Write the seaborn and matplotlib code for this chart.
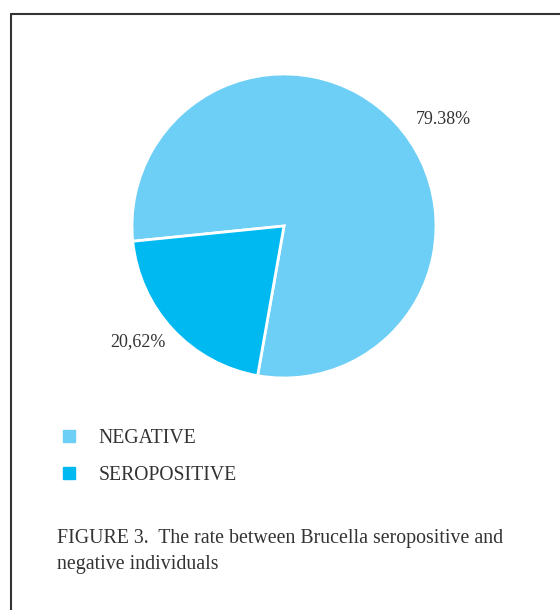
import matplotlib
matplotlib.use("Agg")
import matplotlib.pyplot as plt
import seaborn as sns
from matplotlib.lines import Line2D

categories = ["NEGATIVE", "SEROPOSITIVE"]
values = [79.38, 20.62]
value_labels = ["79.38%", "20,62%"]
colors = ["#6dcff6", "#00b9f1"]
caption = "FIGURE 3.  The rate between Brucella seropositive and\nnegative individuals"

sns.set_theme(style="white")
plt.rcParams["font.family"] = ["Liberation Serif", "DejaVu Serif"]

W, H = 560, 610
fig = plt.figure(figsize=(W / 100, H / 100), dpi=100)

# frame lines (top and left)
fig.add_artist(Line2D([11 / W, 1.0], [1 - 14 / H, 1 - 14 / H], color="#333333", lw=1.5))
fig.add_artist(Line2D([11 / W, 11 / W], [0.0, 1 - 14 / H], color="#333333", lw=1.5))

cx, cy, r = 284, 226, 152
ax = fig.add_axes([(cx - r) / W, 1 - (cy + r) / H, 2 * r / W, 2 * r / H])
wedges, texts = ax.pie(values, colors=colors, startangle=260, counterclock=True,
                       labels=value_labels, labeldistance=1.25,
                       wedgeprops=dict(edgecolor="white", linewidth=2),
                       textprops=dict(fontsize=13, color="#333333"))
ax.set_xlim(-1, 1)
ax.set_ylim(-1, 1)
ax.set_aspect("equal")
# label positions
texts[0].set_position(((443 - cx) / r, (cy - 120) / r))
texts[0].set_ha("center"); texts[0].set_va("center")
texts[1].set_position(((138 - cx) / r, (cy - 342) / r))
texts[1].set_ha("center"); texts[1].set_va("center")

handles = [Line2D([], [], marker="s", linestyle="none", markersize=8,
                  markerfacecolor=c, markeredgecolor=c) for c in colors]
fig.legend(handles, categories, loc="upper left",
           bbox_to_anchor=(39 / W, 1 - 411 / H), frameon=False,
           fontsize=14.2, handlelength=1.2, handletextpad=0.9,
           labelspacing=0.9, labelcolor="#333333")

fig.text(57 / W, 1 - 529 / H, caption, fontsize=14.3, color="#333333",
         ha="left", va="top", linespacing=1.5)

fig.savefig("out.png", dpi=100)
